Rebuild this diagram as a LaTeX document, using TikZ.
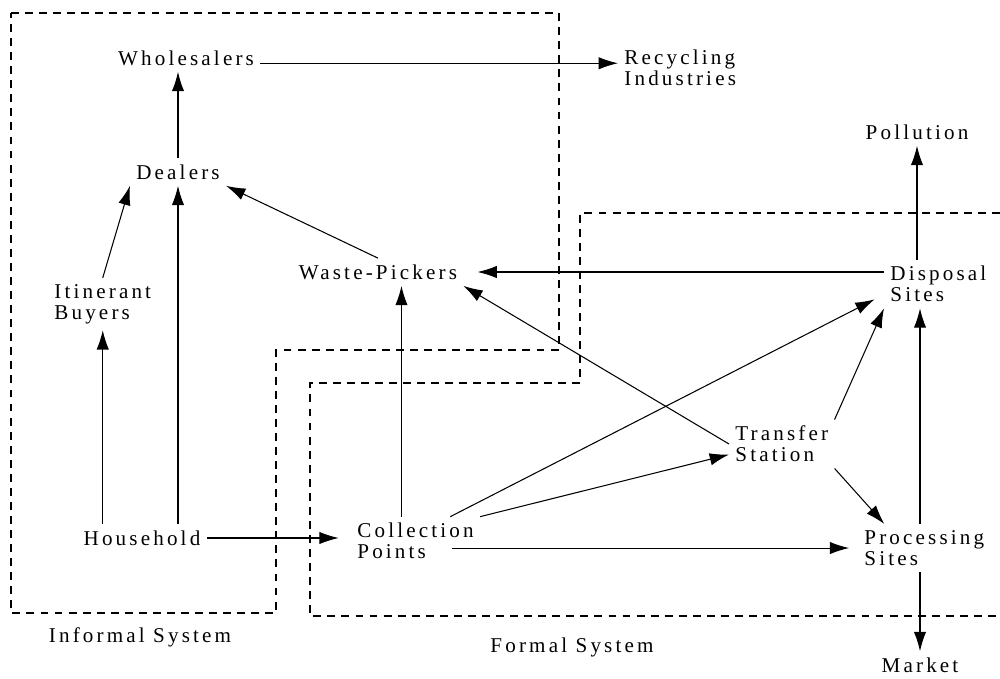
\documentclass[tikz,border=0pt]{standalone}
\usepackage{fontspec}
\setmainfont{Liberation Serif}[LetterSpace=15]
\usetikzlibrary{arrows.meta}

\begin{document}
\begin{tikzpicture}[->,>={Latex[length=11pt,width=7pt]},
  x=0.02cm,y=-0.02cm,semithick,
  every node/.style={font=\fontsize{12}{12}\selectfont,align=left},
  boundary/.style={-,dash pattern=on 4.5pt off 3.5pt}]
  \useasboundingbox (0,0) rectangle (1000,679);
  % informal and formal system
  \draw[boundary] (11,13) -- (559,13) -- (559,350) -- (276,350)
    -- (276,613) -- (11,613) -- cycle;
  \draw[boundary] (1000,213) -- (580,213) -- (580,383) -- (310,383)
    -- (310,616) -- (1000,616);
  \node (wholesale) at (186,58) {Wholesalers};
  \node[anchor=west] (recycle) at (618,68) {Recycling\\Industries};
  \node (pollution) at (917,132) {Pollution};
  \node (dealers) at (178,172) {Dealers};
  \node[anchor=west] (itinerant) at (48,304) {Itinerant\\Buyers};
  \node (pickers) at (378,272) {Waste-Pickers};
  \node[anchor=west] (disposal) at (884,284) {Disposal\\Sites};
  \node[anchor=west] (transfer) at (729,444) {Transfer\\Station};
  \node (household) at (142,538) {Household};
  \node[anchor=west] (collection) at (351,541) {Collection\\Points};
  \node[anchor=west] (processing) at (858,548) {Processing\\Sites};
  \node (market) at (920,665) {Market};
  \node (informal) at (140,637) {Informal System};
  \node (formal) at (572,647) {Formal System};
  \path
  ([yshift=-3pt]wholesale.east) edge ([yshift=-3pt]wholesale.east -| recycle.west)
  (dealers.north) edge (wholesale.south -| dealers.north)
  (itinerant.north) edge (dealers.south west)
  (household.north -| dealers.south) edge (dealers.south)
  (household.north -| itinerant.south) edge (itinerant.south)
  (pickers.north) edge (dealers.south east)
  (pickers.east -| disposal.west) edge[shorten >=8pt] (pickers.east)
  (transfer.west) edge (pickers.south east)
  ([xshift=-8pt]collection.north) edge ([xshift=-8pt]collection.north |- pickers.south)
  (household.east) edge[shorten >=7pt] (household.east -| collection.west)
  ([xshift=-16pt,yshift=-4pt]collection.east) edge[shorten >=5pt] ([yshift=-4pt]collection.east -| processing.west)
  (collection.north east) edge ([yshift=-6pt]transfer.west)
  (collection.35) edge[shorten >=6pt] ([yshift=-6pt]disposal.west)
  (transfer.north east) edge (disposal.south west)
  (transfer.south east) edge ([xshift=15pt]processing.north west)
  (processing.north -| market) edge (disposal.south -| market)
  (processing.south -| market.north) edge (market.north)
  (disposal.north -| pollution.south) edge (pollution.south);
\end{tikzpicture}
\end{document}
